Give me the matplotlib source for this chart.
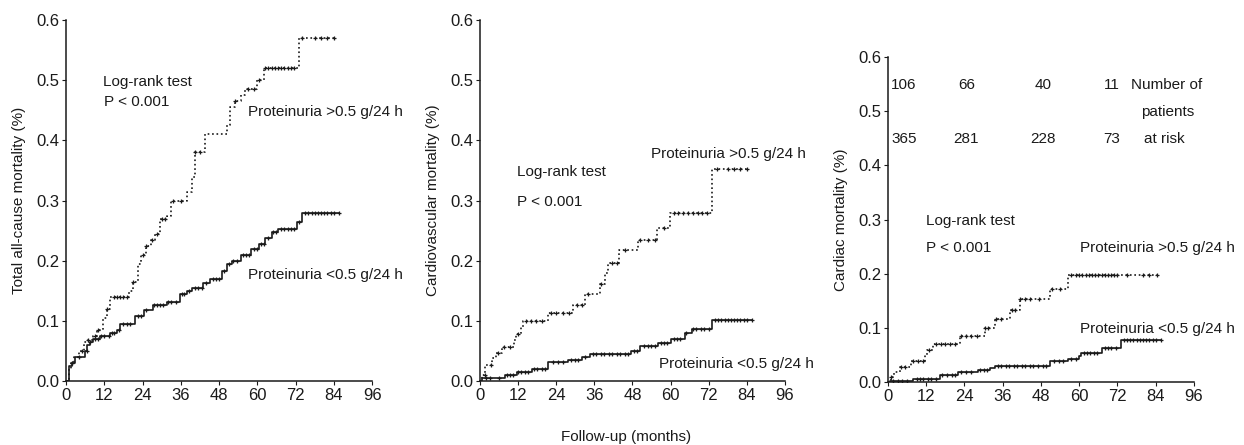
import numpy as np
import matplotlib
matplotlib.use('Agg')
import matplotlib.pyplot as plt

plt.rcParams['font.family'] = ['Liberation Sans', 'DejaVu Sans']

# ---- panel 1: total all-cause mortality ----
p1_hi_t = [0, 1, 1.5, 2.5, 4, 5.5, 7, 8.5, 9.6, 11.7, 12.8, 13.8, 19.6, 21, 22.5, 23.5, 25, 26.5, 28,
           29.5, 31.6, 33, 38, 39.5, 40.5, 43.6, 50.4, 51.5, 53, 55, 56, 60, 62, 73]
p1_hi_v = [0, 0.02, 0.03, 0.04, 0.05, 0.065, 0.068, 0.075, 0.085, 0.105, 0.12, 0.14, 0.15, 0.165, 0.195,
           0.21, 0.225, 0.235, 0.245, 0.27, 0.275, 0.3, 0.315, 0.34, 0.38, 0.41, 0.425, 0.455, 0.465, 0.475,
           0.485, 0.5, 0.52, 0.57]
p1_hi_c = [2, 5, 7, 9, 10, 13, 15, 16, 17, 18, 19, 21, 24, 25, 27, 28.5, 30, 31, 33.5, 36, 40.5, 42,
           53, 57, 59, 60.5, 62.5, 63.5, 64.5, 65.5, 66.5, 67.5, 68.5, 69.5, 70.5, 71.5, 74, 78, 80, 82, 84]

p1_lo_t = [0, 1, 2, 2.8, 6, 6.7, 7.5, 8.5, 10.7, 13.8, 16, 17, 21.6, 24.3, 27.4, 31.6, 35.8, 37.9, 39.5,
           43, 45, 48.8, 50.4, 52, 55, 58, 60.5, 62.5, 64.5, 66.6, 72.4, 74]
p1_lo_v = [0, 0.025, 0.03, 0.04, 0.05, 0.06, 0.065, 0.07, 0.075, 0.08, 0.085, 0.095, 0.108, 0.118, 0.127,
           0.132, 0.145, 0.15, 0.155, 0.163, 0.17, 0.183, 0.195, 0.2, 0.21, 0.22, 0.228, 0.237, 0.248, 0.253,
           0.265, 0.28]
p1_lo_c = [2, 4, 6.5, 7.5, 9, 10, 11, 12, 13.5, 14.5, 15, 16.5, 18, 19, 20, 22.5, 23.5, 25, 27.5, 28.5,
           29.5, 30.5, 32, 33, 34.5, 36.5, 37, 38.5, 40.5, 41.5, 42.5, 44, 46, 47, 48, 49.5, 51, 52.5, 53.5,
           55.5, 56.5, 57.5, 59, 60, 61, 62, 63.5, 65, 66, 67.5, 68.5, 69.5, 70.5, 71.5, 73, 75, 76, 77, 78,
           79, 80, 81, 82, 83, 84, 85.5]

# ---- panel 2: cardiovascular mortality ----
p2_hi_t = [0, 0.5, 1.6, 3.7, 5, 6.8, 10.7, 11.3, 12.8, 13.6, 21.5, 29.4, 33, 37.8, 39.5, 40.4, 43.8,
           49.8, 55.6, 59.8, 73]
p2_hi_v = [0, 0.01, 0.027, 0.038, 0.047, 0.057, 0.068, 0.078, 0.09, 0.1, 0.113, 0.127, 0.145, 0.162,
           0.18, 0.197, 0.217, 0.235, 0.255, 0.28, 0.352]
p2_hi_c = [1.5, 3.5, 5.5, 7.5, 9.5, 12, 14.5, 16, 17.5, 19.5, 22.5, 24, 26, 28, 30.5, 32, 34, 38,
           41.5, 43, 45.5, 50.5, 53, 55, 58, 61, 62.5, 64, 65.5, 67, 68.5, 70, 71.5, 74.5, 78, 80, 82, 84]

p2_lo_t = [0, 0.5, 7.8, 11.5, 16.3, 21.5, 27.8, 32, 34.6, 47.7, 50.4, 56, 60.3, 64.5, 66.6, 73]
p2_lo_v = [0, 0.005, 0.01, 0.015, 0.02, 0.032, 0.035, 0.04, 0.045, 0.05, 0.058, 0.063, 0.07, 0.08,
           0.087, 0.102]
p2_lo_c = [2, 3, 6, 8.5, 9.5, 10.5, 12, 13, 14, 15, 17, 18, 19.5, 20.5, 23, 24.5, 26, 28.5, 30, 31,
           33, 35.5, 36.5, 38, 39, 40.5, 41.5, 43, 44, 45.5, 46.5, 48.5, 49.5, 51.5, 53, 54, 55, 57, 58,
           59, 61, 62, 63, 65, 67, 68, 69.5, 70.5, 72, 74, 75, 76, 77, 78, 79, 80, 81, 82, 83, 84, 85.5]

# ---- panel 3: cardiac mortality ----
p3_hi_t = [0, 1, 2, 3.7, 7.3, 11.5, 12.3, 14.1, 22.5, 30.3, 33.5, 38.2, 41.3, 50.7, 56.5]
p3_hi_v = [0, 0.01, 0.018, 0.028, 0.038, 0.05, 0.06, 0.07, 0.085, 0.1, 0.117, 0.133, 0.153, 0.172, 0.197]
p3_hi_c = [1, 4, 5.5, 8, 9.5, 11, 13, 15, 16.5, 18, 19.5, 21, 23, 24.5, 26, 28, 30.5, 31.5, 34, 35.5,
           39, 40, 41.5, 43, 44.5, 47.5, 51.5, 54, 57.5, 59, 60, 61, 62, 63, 64, 65, 66, 67, 68, 69, 70,
           71, 72, 75, 80, 82, 84.5]

p3_lo_t = [0, 0.5, 7.8, 16.2, 22, 28.2, 32, 33.5, 50.7, 56.5, 60, 60.7, 67, 73.2]
p3_lo_v = [0, 0.002, 0.005, 0.012, 0.018, 0.022, 0.025, 0.03, 0.038, 0.043, 0.048, 0.053, 0.062, 0.077]
p3_lo_c = [1.5, 3, 4.5, 6, 9, 10, 11, 12.5, 13.5, 15, 17, 18.5, 20, 21, 23, 24.5, 26, 29, 30, 31,
           34.5, 35.5, 37, 38, 39.5, 40.5, 42, 43, 44.5, 45.5, 47, 48.5, 49.5, 52, 53.5, 55, 57.5, 59,
           61.5, 62.5, 63.5, 64.5, 65.5, 68, 69, 70, 71.5, 74, 75, 76, 77, 78, 79, 80, 81, 82, 83, 84, 85.5]

# number at risk (panel 3)
risk_x = [5, 24.6, 48.6, 70.2]
risk_hi = ['106', '66', '40', '11']
risk_lo = ['365', '281', '228', '73']

ylabels = ['Total all-cause mortality (%)', 'Cardiovascular mortality (%)', 'Cardiac mortality (%)']
xticks = [0, 12, 24, 36, 48, 60, 72, 84, 96]
yticks = [0.0, 0.1, 0.2, 0.3, 0.4, 0.5, 0.6]

ink = '#1a1a1a'
fs = 11      # annotations / labels
tfs = 12     # tick labels


def km(ax, t, v, cens, ls):
    end = max(cens[-1], t[-1])
    tt = list(t) + [end]
    vv = list(v) + [v[-1]]
    ax.step(tt, vv, where='post', color=ink, lw=1.2, ls=ls)
    idx = np.searchsorted(t, cens, side='right') - 1
    cy = np.array(v)[idx]
    ax.plot(cens, cy, ls='none', marker='+', ms=3.5, mew=0.9, color=ink)


fig = plt.figure(figsize=(12.44, 4.45), dpi=100)
ax1 = fig.add_axes([0.0531, 0.1438, 0.246, 0.811])
ax2 = fig.add_axes([0.3859, 0.1438, 0.245, 0.811])
ax3 = fig.add_axes([0.7138, 0.1416, 0.246, 0.730])

km(ax1, p1_hi_t, p1_hi_v, p1_hi_c, ':')
km(ax1, p1_lo_t, p1_lo_v, p1_lo_c, '-')
km(ax2, p2_hi_t, p2_hi_v, p2_hi_c, ':')
km(ax2, p2_lo_t, p2_lo_v, p2_lo_c, '-')
km(ax3, p3_hi_t, p3_hi_v, p3_hi_c, ':')
km(ax3, p3_lo_t, p3_lo_v, p3_lo_c, '-')

for ax, lab in zip([ax1, ax2, ax3], ylabels):
    ax.set_xlim(0, 96)
    ax.set_ylim(0, 0.6)
    ax.set_xticks(xticks)
    ax.set_yticks(yticks)
    ax.set_yticklabels(['%.1f' % y for y in yticks])
    ax.spines['top'].set_visible(False)
    ax.spines['right'].set_visible(False)
    for s in ['left', 'bottom']:
        ax.spines[s].set_color(ink)
        ax.spines[s].set_linewidth(1.1)
    ax.tick_params(direction='out', length=3, width=0.8, colors=ink, labelsize=tfs, pad=2)
    ax.set_ylabel(lab, fontsize=fs, color=ink, labelpad=7)

# annotations
ax1.text(11.6, 0.497, 'Log-rank test', fontsize=fs, color=ink, va='center')
ax1.text(12, 0.464, 'P < 0.001', fontsize=fs, color=ink, va='center')
ax1.text(57.2, 0.448, 'Proteinuria >0.5 g/24 h', fontsize=fs, color=ink, va='center')
ax1.text(57.2, 0.176, 'Proteinuria <0.5 g/24 h', fontsize=fs, color=ink, va='center')

ax2.text(11.5, 0.347, 'Log-rank test', fontsize=fs, color=ink, va='center')
ax2.text(11.5, 0.298, 'P < 0.001', fontsize=fs, color=ink, va='center')
ax2.text(53.7, 0.378, 'Proteinuria >0.5 g/24 h', fontsize=fs, color=ink, va='center')
ax2.text(56.5, 0.028, 'Proteinuria <0.5 g/24 h', fontsize=fs, color=ink, va='center')

ax3.text(12, 0.298, 'Log-rank test', fontsize=fs, color=ink, va='center')
ax3.text(12, 0.248, 'P < 0.001', fontsize=fs, color=ink, va='center')
ax3.text(60.1, 0.248, 'Proteinuria >0.5 g/24 h', fontsize=fs, color=ink, va='center')
ax3.text(60.1, 0.097, 'Proteinuria <0.5 g/24 h', fontsize=fs, color=ink, va='center')

for x, a, b in zip(risk_x, risk_hi, risk_lo):
    ax3.text(x, 0.549, a, fontsize=fs, color=ink, ha='center', va='center')
    ax3.text(x, 0.449, b, fontsize=fs, color=ink, ha='center', va='center')
ax3.text(76.3, 0.549, 'Number of', fontsize=fs, color=ink, va='center')
ax3.text(87.6, 0.498, 'patients', fontsize=fs, color=ink, ha='center', va='center')
ax3.text(86.8, 0.449, 'at risk', fontsize=fs, color=ink, ha='center', va='center')

fig.text(0.503, 0.018, 'Follow-up (months)', fontsize=fs, color=ink, ha='center', va='center')

fig.savefig('out.png', dpi=100)
